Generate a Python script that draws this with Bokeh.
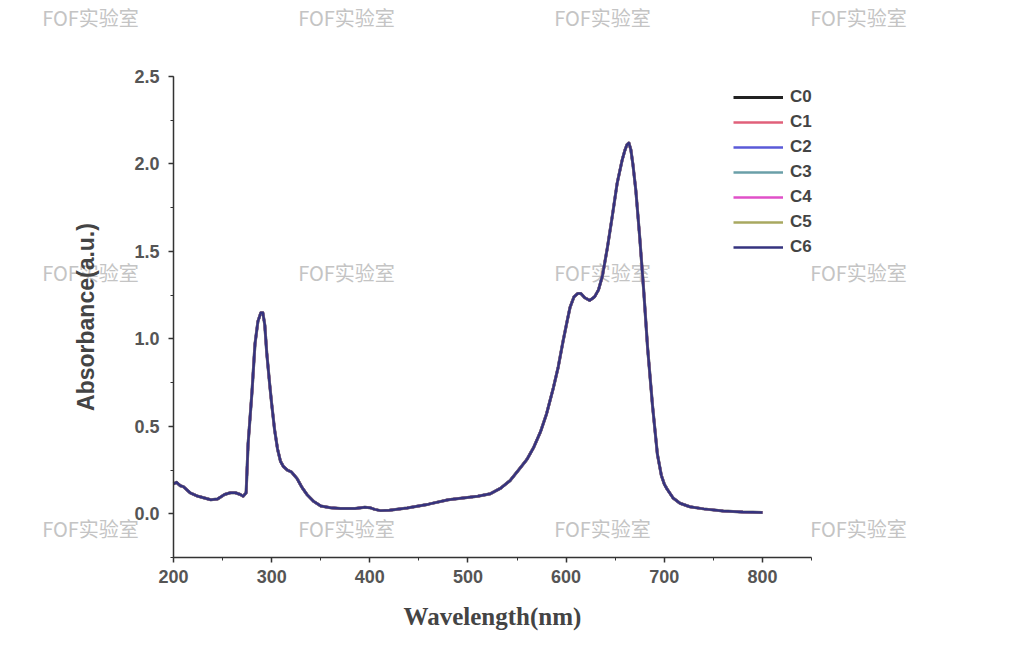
from bokeh.plotting import figure
from bokeh.models import Range1d, SingleIntervalTicker, PrintfTickFormatter, Label
from bokeh.embed import file_html
from bokeh.resources import INLINE

# ---- data ----
wavelength = [200, 203, 207, 210, 217, 225, 238, 245, 252, 258, 263, 268, 271, 274, 276, 278,
              280, 283, 286, 289, 291, 293, 295, 298, 300, 303, 306, 309, 312, 316, 320, 326,
              331, 336, 343, 350, 360, 370, 385, 395, 400, 405, 411, 420, 438, 460, 480, 495,
              510, 523, 533, 543, 553, 560, 567, 574, 580, 587, 592, 597, 601, 604, 608, 612,
              615, 619, 624, 629, 633, 637, 642, 647, 652, 657, 660, 662, 664, 666, 668, 671,
              675, 679, 683, 688, 693, 697, 700, 703, 709, 716, 726, 740, 760, 780, 800]
absorbance = [0.17, 0.18, 0.16, 0.155, 0.12, 0.10, 0.08, 0.085, 0.11, 0.12, 0.12, 0.11, 0.10, 0.12, 0.40, 0.55,
              0.70, 0.97, 1.10, 1.15, 1.15, 1.08, 0.92, 0.74, 0.63, 0.48, 0.37, 0.30, 0.27, 0.25, 0.24, 0.20,
              0.15, 0.11, 0.07, 0.045, 0.035, 0.03, 0.03, 0.037, 0.035, 0.025, 0.018, 0.02, 0.033, 0.055, 0.08, 0.09,
              0.10, 0.115, 0.145, 0.19, 0.26, 0.31, 0.38, 0.47, 0.57, 0.72, 0.84, 0.99, 1.10, 1.18, 1.24, 1.26,
              1.26, 1.235, 1.22, 1.24, 1.28, 1.36, 1.52, 1.70, 1.89, 2.02, 2.08, 2.11, 2.12, 2.08, 2.00, 1.85,
              1.58, 1.28, 0.95, 0.62, 0.34, 0.22, 0.17, 0.14, 0.09, 0.06, 0.04, 0.028, 0.016, 0.01, 0.007]
# all seven samples overlap exactly in the picture
series_names = ["C0", "C1", "C2", "C3", "C4", "C5", "C6"]
series_values = {name: absorbance for name in series_names}
series_colors = ["#222222", "#e0607a", "#5a5ad8", "#6a9fa8", "#e050c8", "#a8a860", "#35337f"]
x_axis_span = (200, 850)
y_axis_span = (-0.25, 2.5)
watermark = "FOF实验室"

# ---- layout (canvas pixels) ----
W, H = 1010, 640
AX_L, AX_R, AX_T, AX_B = 173, 811, 76, 557   # where the axes are drawn
kx = (AX_R - AX_L) / (x_axis_span[1] - x_axis_span[0])
ky = (AX_B - AX_T) / (y_axis_span[1] - y_axis_span[0])
# the frame covers the whole canvas so that the watermark texts are not clipped;
# the axes are then pinned at the chart's corner with fixed_location and bounds
x_range = Range1d(x_axis_span[0] - AX_L / kx, x_axis_span[0] + (W - AX_L) / kx)
y_range = Range1d(y_axis_span[0] - (H - AX_B) / ky, y_axis_span[0] + AX_B / ky)

p = figure(width=W, height=H, output_backend="svg", toolbar_location=None,
           x_range=x_range, y_range=y_range, min_border=0)
p.outline_line_color = None
p.background_fill_color = "white"
p.border_fill_color = "white"
p.xgrid.visible = False
p.ygrid.visible = False

for i, name in enumerate(series_names):
    p.line(wavelength, series_values[name], color=series_colors[i],
           line_width=3 if i == 0 else 2.5, line_join="round", legend_label=name)

p.xaxis.ticker = SingleIntervalTicker(interval=100, num_minor_ticks=2)
p.yaxis.ticker = SingleIntervalTicker(interval=0.5, num_minor_ticks=2)
p.yaxis.formatter = PrintfTickFormatter(format="%.1f")
p.xaxis.fixed_location = y_axis_span[0]
p.yaxis.fixed_location = x_axis_span[0]
p.xaxis.bounds = x_axis_span
p.yaxis.bounds = y_axis_span
for ax in (p.xaxis[0], p.yaxis[0]):
    ax.axis_line_color = "#333333"
    ax.axis_line_width = 1.5
    ax.major_tick_line_color = "#333333"
    ax.minor_tick_line_color = "#333333"
    ax.major_tick_line_width = 1.5
    ax.major_tick_in = 0
    ax.major_tick_out = 5
    ax.minor_tick_in = 0
    ax.minor_tick_out = 3
    ax.major_label_text_font = "Liberation Sans"
    ax.major_label_text_font_size = "18px"
    ax.major_label_text_font_style = "bold"
    ax.major_label_text_color = "#555555"

p.xaxis.major_label_standoff = 7
p.yaxis.major_label_standoff = 9
p.xaxis.axis_label = "Wavelength(nm)"
p.xaxis.axis_label_text_font = "Liberation Serif"
p.xaxis.axis_label_text_font_size = "25px"
p.xaxis.axis_label_text_font_style = "bold"
p.xaxis.axis_label_text_color = "#444444"
p.xaxis.axis_label_standoff = 17
p.yaxis.axis_label = "Absorbance(a.u.)"
p.yaxis.axis_label_text_font = "Liberation Sans"
p.yaxis.axis_label_text_font_size = "23px"
p.yaxis.axis_label_text_font_style = "bold"
p.yaxis.axis_label_text_color = "#444444"
p.yaxis.axis_label_standoff = 32

lg = p.legend[0]
lg.location = (733, H - 257)
lg.background_fill_alpha = 0
lg.border_line_color = None
lg.padding = 0
lg.margin = 0
lg.spacing = 5
lg.glyph_width = 50
lg.glyph_height = 20
lg.label_height = 20
lg.label_standoff = 7
lg.label_text_font = "Liberation Sans"
lg.label_text_font_size = "17px"
lg.label_text_font_style = "bold"
lg.label_text_color = "#444444"
lg.label_text_baseline = "middle"

# watermark texts at their page positions
for cx in (90, 346, 602, 858):
    for cy in (17, 272, 528):
        p.add_layout(Label(x=cx, y=H - cy, x_units="screen", y_units="screen", text=watermark,
                           text_font="Noto Sans CJK SC", text_font_size="20px",
                           text_color="#c4c4c4", text_align="center", text_baseline="middle",
                           level="underlay"))

open("out.html", "w").write(file_html(p, INLINE))
